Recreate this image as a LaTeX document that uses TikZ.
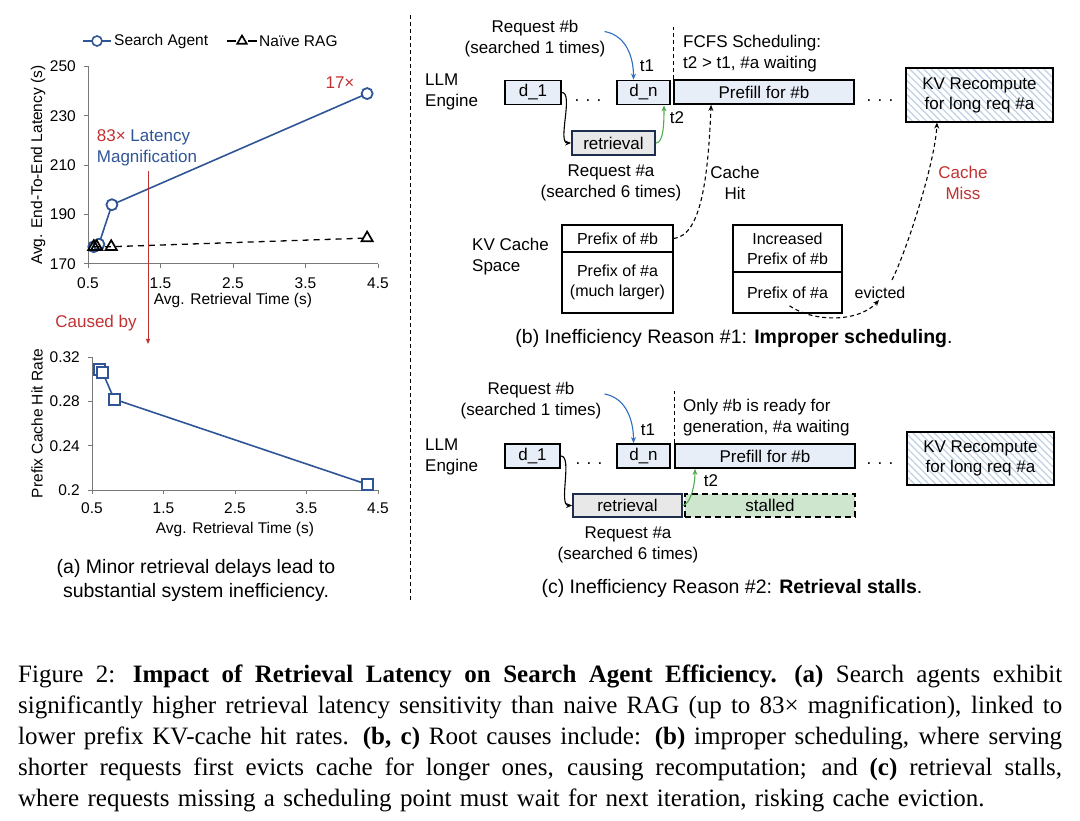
\documentclass[tikz,border=0pt]{standalone}
\usepackage{fontspec}
\setmainfont{Liberation Sans}
\newfontfamily\capserif{Liberation Serif}
\usetikzlibrary{arrows.meta,calc,patterns.meta,plotmarks}

\definecolor{plotblue}{RGB}{47,85,151}
\definecolor{plotred}{RGB}{192,50,50}
\definecolor{axisgray}{RGB}{120,120,120}
\definecolor{boxblue}{RGB}{232,238,248}
\definecolor{retrgray}{RGB}{232,232,232}
\definecolor{retrnavy}{RGB}{31,45,77}
\definecolor{stallgreen}{RGB}{205,230,205}
\definecolor{hatchblue}{RGB}{190,208,228}
\definecolor{arrowgreen}{RGB}{80,170,80}
\definecolor{arrowblue}{RGB}{45,110,190}

\newcommand{\capline}[1]{\hbox to 1044pt{\spaceskip=0.25em plus 1em minus 0.05em\xspaceskip=0.45em plus 1em #1}}

\begin{document}
\begin{tikzpicture}[x=1pt,y=-1pt]
\tikzset{
  txt/.style={inner sep=0pt,font=\fontsize{17}{21}\selectfont},
  ticklbl/.style={inner sep=0pt,font=\fontsize{15.5}{18}\selectfont},
  subcap/.style={inner sep=0pt,font=\fontsize{19.5}{24}\selectfont},
  stepbox/.style={draw=black,line width=1.8pt,fill=boxblue,inner sep=0pt,minimum height=24pt,font=\fontsize{17}{21}\selectfont},
  retrbox/.style={draw=retrnavy,line width=1.8pt,fill=retrgray,inner sep=0pt,minimum height=24pt,font=\fontsize{17}{21}\selectfont},
  kvbox/.style={draw=black,line width=1.8pt,pattern={Lines[angle=-45,distance=5pt,line width=1.2pt]},pattern color=hatchblue,align=center,inner sep=0pt,font=\fontsize{17}{20}\selectfont},
  stallbox/.style={draw=black,line width=1.8pt,dash pattern=on 6pt off 4pt,fill=stallgreen,inner sep=0pt,font=\fontsize{17}{21}\selectfont},
  stackcell/.style={draw=black,line width=1.6pt,align=center,inner sep=0pt,font=\fontsize{16}{20}\selectfont},
  conn/.style={line width=1.1pt},
  dashconn/.style={line width=1.1pt,dash pattern=on 4pt off 3pt},
  arrowtip/.style={-{Stealth[length=6pt,width=5pt]}},
  axisline/.style={axisgray,line width=1pt}
}
\useasboundingbox (0,0) rectangle (1080,821);

% ---------- (a) legend ----------
\draw[plotblue,line width=1.6pt] (83,41) -- (111,41);
\draw[plotblue,line width=1.6pt] plot[mark=*,mark size=5pt,mark options={fill=white}] coordinates {(97,41)};
\node[ticklbl,anchor=west] (legsa) at (114,41) {Search Agent};
\draw[line width=1.3pt] (227,41) -- (236,41) (248,41) -- (257,41);
\draw[line width=1.6pt] plot[mark=triangle,mark size=5.5pt] coordinates {(242,41)};
\node[ticklbl,anchor=west] (legrag) at (259,41) {Naïve RAG};

% ---------- (a) latency chart ----------
\begin{scope}[shift={(88,264)},x=72.5pt,y=2.47pt,shift={(-0.5,-170)}]
  \draw[axisline] (0.5,250) -- (0.5,170) -- (4.5,170);
  \foreach \t in {170,190,...,250}{
    \draw[axisline] (0.5,\t) -- ++(-4pt,0);
    \node[ticklbl,anchor=east,xshift=-12pt] at (0.5,\t) {\t};
  }
  \foreach \t in {0.5,1.5,2.5,3.5,4.5}{
    \draw[axisline] (\t,170) -- ++(0,-4pt);
    \node[ticklbl,yshift=-19pt] at (\t,170) {\t};
  }
  \node[ticklbl,yshift=-36pt] (latx) at (2.5,170) {Avg. Retrieval Time (s)};
  \node[ticklbl,rotate=90] (laty) at ([xshift=-50pt]0.5,210) {Avg. End-To-End Latency (s)};
  \draw[plotblue,line width=1.6pt] plot[mark=*,mark size=5.5pt,mark options={fill=white,line width=1.8pt}]
    coordinates {(0.58,177) (0.65,178) (0.83,194) (4.35,239)};
  \draw[black,line width=1.3pt,dash pattern=on 6pt off 5pt] plot[mark=triangle,mark size=6.5pt,mark options={solid,line width=1.7pt}]
    coordinates {(0.58,177) (0.62,177) (0.82,177) (4.35,180.5)};
\end{scope}
\node[txt,text=plotred] (mag17) at (340,83) {17×};
\node[txt,align=left] (mag) at (147,148) {\textcolor{plotred}{83×} \textcolor{plotblue}{Latency}\\\textcolor{plotblue}{Magnification}};
\coordinate (causetip) at (148,344);
\draw[plotred,line width=1pt,-{Triangle[length=5pt,width=4pt]}] ($(mag.south -| causetip)+(0,5)$) -- (causetip);
\node[txt,text=plotred] (caused) at (96,323) {Caused by};

% ---------- (a) hit-rate chart ----------
\begin{scope}[shift={(92,490)},x=71.5pt,y=1107.5pt,shift={(-0.5,-0.2)}]
  \draw[axisline] (0.5,0.32) -- (0.5,0.2) -- (4.5,0.2);
  \foreach \t in {0.2,0.24,0.28,0.32}{
    \draw[axisline] (0.5,\t) -- ++(-4pt,0);
    \node[ticklbl,anchor=east,xshift=-12pt] at (0.5,\t) {\t};
  }
  \foreach \t in {0.5,1.5,2.5,3.5,4.5}{
    \draw[axisline] (\t,0.2) -- ++(0,-4pt);
    \node[ticklbl,yshift=-18pt] at (\t,0.2) {\t};
  }
  \node[ticklbl,yshift=-39pt] (hitx) at (2.5,0.2) {Avg. Retrieval Time (s)};
  \node[ticklbl,rotate=90] (hity) at ([xshift=-55pt]0.5,0.26) {Prefix Cache Hit Rate};
  \draw[plotblue,line width=1.6pt] plot[mark=square*,mark size=5.5pt,mark options={fill=white,line width=2pt}]
    coordinates {(0.61,0.309) (0.65,0.306) (0.81,0.282) (4.35,0.205)};
\end{scope}
\node[subcap,align=center] (capa) at (196,580) {(a) Minor retrieval delays lead to\\substantial system inefficiency.};

% divider
\draw[line width=1pt,dash pattern=on 4pt off 3pt] (410,15) -- (410,602);

% ---------- (b) improper scheduling ----------
\node[txt,align=left,anchor=west] (llmb) at (425,92) {LLM\\Engine};
\node[stepbox,minimum width=56pt] (d1b) at (533,92.5) {d\_1};
\node[txt] (dotsb1) at (588,101) {. . .};
\node[stepbox,minimum width=53pt] (dnb) at (643.5,92.5) {d\_n};
\node[stepbox,minimum width=180pt] (prefillb) at (764,92) {Prefill for \#b};
\node[txt] (dotsb2) at (880,101) {. . .};
\node[kvbox,minimum width=147pt,minimum height=54pt] (kvb) at (979.5,95) {KV Recompute\\for long req \#a};
\node[retrbox,minimum width=83pt] (retb) at (613.5,143) {retrieval};
\node[txt,align=center] (reqbb) at (535,38.5) {Request \#b\\(searched 1 times)};
\node[txt,align=center] (reqab) at (611,182.5) {Request \#a\\(searched 6 times)};
\node[txt] (t1b) at (647,66) {t1};
\node[txt] (t2b) at (677,118) {t2};
\node[txt,align=left,anchor=west] (fcfs) at (683,53.5) {FCFS Scheduling:\\t2 > t1, \#a waiting};
\node[txt,align=center] (hit) at (735,183) {Cache\\Hit};
\node[txt,align=center,text=plotred] (miss) at (963,183) {Cache\\Miss};
\node[txt,align=left,anchor=west] (kvspace) at (472,257) {KV Cache\\Space};
\node[stackcell,minimum width=111pt,minimum height=27pt] (pfb1) at (617.5,238.5) {Prefix of \#b};
\node[stackcell,minimum width=111pt,minimum height=61pt] (pfa1) at (617.5,282.5) {Prefix of \#a\\(much larger)};
\node[stackcell,minimum width=109pt,minimum height=47pt] (incb) at (787.5,248.5) {Increased\\Prefix of \#b};
\node[stackcell,minimum width=109pt,minimum height=41pt] (pfa2) at (787.5,292.5) {Prefix of \#a};
\node[txt,font=\fontsize{16}{20}\selectfont] (evict) at (880,293) {evicted};
\node[subcap] (capb) at (734,339) {(b) Inefficiency Reason \#1: \textbf{Improper scheduling}.};

\draw[conn,arrowtip] (d1b.east) .. controls +(12,0) and +(-14,0) .. (retb.west);
\draw[conn,arrowgreen,arrowtip] (retb.east) .. controls +(8,0) and +(0,16) .. ($(dnb.south)+(20.5,0)$);
\draw[conn,arrowblue,arrowtip] ($(reqbb.east)+(-1,-7)$) .. controls +(22,4) and +(0,-22) .. ($(dnb.north)+(-10,0)$);
\draw[dashconn] (prefillb.north west) -- ++(0,-52);
\draw[dashconn,arrowtip] (pfb1.east) .. controls +(28,-3) and +(-3,70) .. ($(prefillb.south west)+(38,0)$);
\draw[dashconn,arrowtip] ($(pfa2.south)+(2,-8)$) .. controls +(25,17) and +(-20,22) .. ($(evict.south)+(-1,1)$);
\draw[dashconn,arrowtip] ($(evict.north)+(12,-7)$) .. controls +(15,-30) and +(-2,40) .. ($(kvb.south)+(-42.5,0)$);

% ---------- (c) retrieval stalls ----------
\node[txt,align=center] (reqbc) at (531,401) {Request \#b\\(searched 1 times)};
\node[txt] (t1c) at (648,430) {t1};
\node[txt,align=left,anchor=west] (onlyb) at (683,418) {Only \#b is ready for\\generation, \#a waiting};
\node[txt,align=left,anchor=west] (llmc) at (425,457) {LLM\\Engine};
\node[stepbox,minimum width=55pt] (d1c) at (532.5,456) {d\_1};
\node[txt] (dotsc1) at (589,464) {. . .};
\node[stepbox,minimum width=53pt] (dnc) at (643.5,456) {d\_n};
\node[stepbox,minimum width=180pt] (prefillc) at (765,456) {Prefill for \#b};
\node[txt] (dotsc2) at (880,464) {. . .};
\node[kvbox,minimum width=147pt,minimum height=53pt] (kvc) at (980.5,458.5) {KV Recompute\\for long req \#a};
\node[retrbox,minimum width=109pt,minimum height=23pt] (retc) at (627.5,505.5) {retrieval};
\node[stallbox,minimum width=170pt,minimum height=23pt] (stall) at (770,505.5) {stalled};
\node[txt] (t2c) at (711,481) {t2};
\node[txt,align=center] (reqac) at (628,544.5) {Request \#a\\(searched 6 times)};
\node[subcap] (capc) at (732,588) {(c) Inefficiency Reason \#2: \textbf{Retrieval stalls}.};

\draw[conn,arrowtip] (d1c.east) .. controls +(12,0) and +(-14,0) .. (retc.west);
\draw[conn,arrowgreen,arrowtip] (retc.east) .. controls +(8,-2) and +(0,16) .. ($(prefillc.south)+(-70,0)$);
\draw[conn,arrowblue,arrowtip] ($(reqbc.east)+(3,-7)$) .. controls +(22,4) and +(0,-22) .. ($(dnc.north)+(-10,0)$);
\draw[dashconn] (prefillc.north west) -- ++(0,-52);

% ---------- figure caption ----------
\node[anchor=north west,inner sep=0pt,text width=1044pt,
      font=\capserif\fontsize{25}{30.9}\selectfont] (figcap) at (18,665) {%
\capline{Figure 2: \textbf{Impact of Retrieval Latency on Search Agent Efficiency.} \textbf{(a)} Search agents exhibit}
\capline{significantly higher retrieval latency sensitivity than naive RAG (up to 83× magnification), linked to}
\capline{lower prefix KV-cache hit rates. \textbf{(b, c)} Root causes include: \textbf{(b)} improper scheduling, where serving}
\capline{shorter requests first evicts cache for longer ones, causing recomputation; and \textbf{(c)} retrieval stalls,}
\hbox{where requests missing a scheduling point must wait for next iteration, risking cache eviction.}};
\end{tikzpicture}
\end{document}
